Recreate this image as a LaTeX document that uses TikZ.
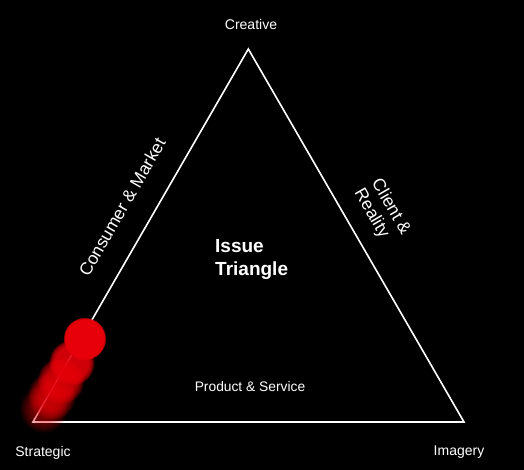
\documentclass[tikz,border=0pt]{standalone}
\usepackage{fontspec}
\setmainfont{Liberation Sans}
\definecolor{blobred}{RGB}{232,0,10}
% soft red disc: centre x, centre y, radius, opacity per layer, softness
\newcommand{\softdot}[5]{%
  \foreach \k in {0,...,7}{%
    \fill[blobred, fill opacity=#4] (#1,#2) circle[radius={(#3+#5-2*#5*\k/7)*1pt}];}}
\begin{document}
\begin{tikzpicture}[x=1pt,y=-1pt,
  lbl/.style={text=white,inner sep=0pt,font=\fontsize{14}{17}\selectfont},
  sidelbl/.style={text=white,inner sep=0pt,font=\fontsize{17.5}{20}\selectfont},
  edge/.style={draw=white,line width=1.6pt,line join=miter}]
\fill[black] (0,0) rectangle (524,470);
\useasboundingbox (0,0) rectangle (524,470);

% corners of the triangle
\coordinate (top) at (248.3,49);
\coordinate (left) at (33,422);
\coordinate (right) at (464,422);
\draw[edge] (top) -- (left) -- (right) -- cycle;

% trail of soft red discs along the left edge
\softdot{44}{409}{17.5}{0.083}{6}
\softdot{52}{396}{18.5}{0.14}{5}
\softdot{61}{381}{19}{0.182}{4}
\softdot{72}{363}{19.5}{0.25}{3}
\softdot{85}{339}{19.5}{0.55}{1.5}

% corner labels
\node[lbl,anchor=base] (creative) at (251,30) {Creative};
\node[lbl,anchor=base] (strategic) at (43,456) {Strategic};
\node[lbl,anchor=base] (imagery) at (459,455.5) {Imagery};

% side labels
\node[sidelbl,rotate=60] (consumer) at (122,207) {Consumer \& Market};
\node[sidelbl,rotate=-60,align=left] (client) at (382,212) {Client \&\\Reality};
\node[lbl,anchor=base,font=\fontsize{13.8}{17}\selectfont] (product) at (250,391.7) {Product \& Service};

% title
\node[text=white,inner sep=0pt,anchor=north west,align=left,
  font=\fontsize{19}{22.5}\selectfont\bfseries] (title) at (215,239.5) {Issue\\Triangle};
\end{tikzpicture}
\end{document}
